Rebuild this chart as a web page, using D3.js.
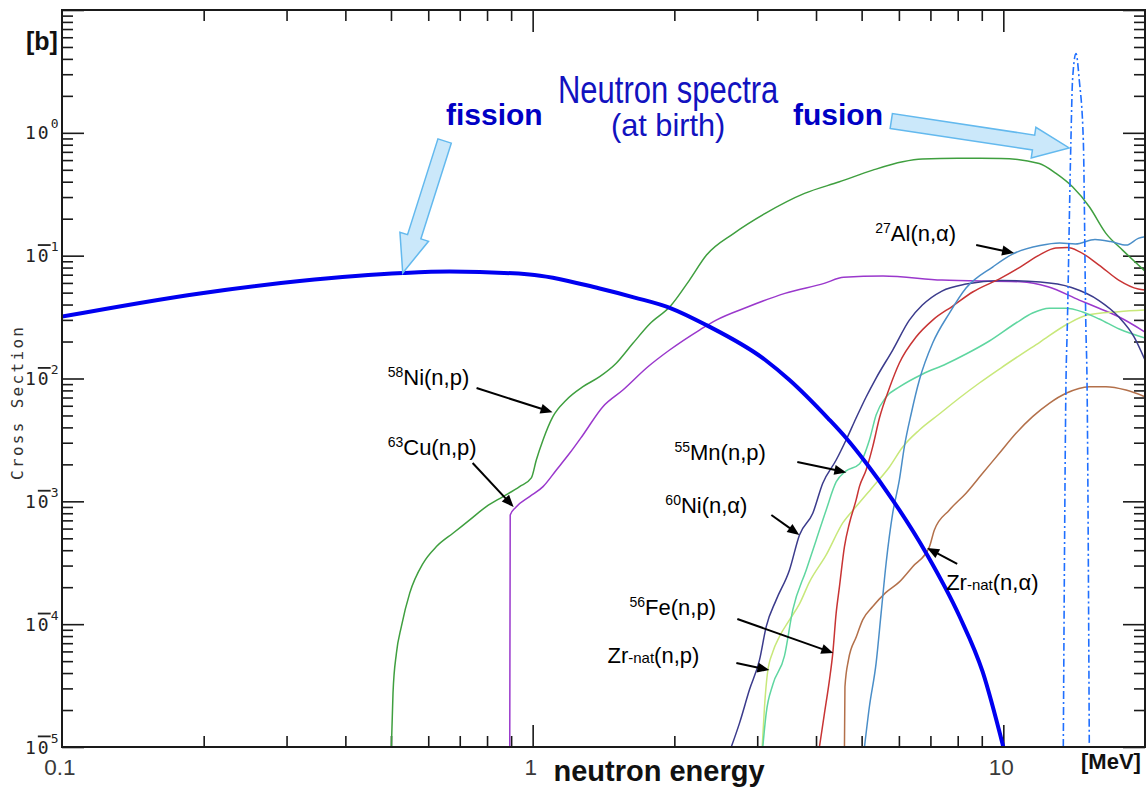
<!DOCTYPE html>
<html>
<head>
<meta charset="utf-8">
<script src="https://cdn.jsdelivr.net/npm/d3@7"></script>
<style>
  html, body { margin: 0; padding: 0; background: #fff; }
  svg { display: block; }
</style>
</head>
<body>
<svg id="chart" width="1146" height="789"></svg>
<script>
// ---- data: energy in MeV, cross section in barns ----
const fissionSpectrum = [[0.1,0.0319],[0.1963,0.0493],[0.320,0.0621],[0.530,0.0722],[0.666,0.0742],[0.985,0.0704],[1.388,0.054],[1.647,0.0456],[1.967,0.0373],[2.339,0.0272],[3.121,0.01415],[3.513,0.00972],[4.242,0.00474],[4.634,0.003278],[5.111,0.002051],[5.821,0.001025],[6.853,3.80e-4],[8.065,1.165e-4],[9.04,4.08e-5],[10.0,1.0e-5]];
const fusionSpectrum = [[13.41,1e-5],[13.59,0.00972],[13.67,0.0248],[13.92,0.872],[14.03,2.685],[14.27,4.43],[14.50,2.685],[14.79,0.872],[14.98,0.0248],[15.06,0.00972],[15.23,1e-5]];

const ni58np = [[0.501,1e-5],[0.505,2.75e-5],[0.5135,5.81e-5],[0.526,9.56e-5],[0.548,1.79e-4],[0.585,3.13e-4],[0.6245,4.28e-4],[0.677,5.50e-4],[0.735,7.06e-4],[0.797,9.06e-4],[0.865,1.092e-3],[0.938,1.317e-3],[0.9936,1.55e-3],[1.018,2.17e-3],[1.052,3.16e-3],[1.104,4.89e-3],[1.179,6.69e-3],[1.279,8.58e-3],[1.388,0.01034],[1.505,0.0133],[1.633,0.01933],[1.772,0.02776],[1.963,0.0389],[2.154,0.0633],[2.341,0.1011],[2.676,0.1519],[3.121,0.2209],[3.781,0.3213],[4.486,0.3994],[5.279,0.497],[6.112,0.581],[6.73,0.611],[8.0,0.62],[9.88,0.619],[11.92,0.5637],[12.94,0.4674],[14.03,0.3635],[15.23,0.25],[16.52,0.1519],[17.92,0.111],[20.0,0.0749]];
const cu63np = [[0.894,1e-5],[0.896,7.75e-4],[0.920,8.92e-4],[0.985,1.092e-3],[1.052,1.317e-3],[1.123,1.80e-3],[1.198,2.46e-3],[1.279,3.47e-3],[1.41,5.90e-3],[1.555,8.06e-3],[1.755,0.0124],[1.954,0.01706],[2.262,0.0248],[2.455,0.0299],[2.861,0.0382],[3.435,0.0493],[4.162,0.0595],[4.581,0.0666],[5.551,0.0682],[7.406,0.0633],[10.88,0.0613],[12.44,0.0558],[14.5,0.0435],[15.97,0.0373],[17.58,0.0318],[20.0,0.0239]];
const ni60na = [[2.642,1e-5],[2.751,1.565e-5],[2.888,2.92e-5],[3.034,5.12e-5],[3.135,9.56e-5],[3.292,1.576e-4],[3.513,2.766e-4],[3.689,5.33e-4],[3.937,8.0e-4],[4.134,1.404e-3],[4.414,2.17e-3],[4.634,3.16e-3],[4.867,4.77e-3],[5.111,7.07e-3],[5.367,0.01009],[5.821,0.01706],[6.315,0.0299],[6.73,0.0396],[7.406,0.0515],[8.333,0.0587],[9.88,0.0627],[11.97,0.061],[13.96,0.055],[15.97,0.0431],[17.58,0.0318],[18.97,0.02176],[20.0,0.01414]];
const al27na = [[5.07,1e-5],[5.194,2.136e-5],[5.367,4.82e-5],[5.50,1.229e-4],[5.636,3.135e-4],[5.821,8.0e-4],[6.014,1.493e-3],[6.163,2.787e-3],[6.377,5.24e-3],[6.632,9.72e-3],[7.078,0.01945],[7.683,0.0341],[8.333,0.0545],[9.506,0.0812],[10.46,0.103],[11.97,0.1208],[13.18,0.1266],[14.23,0.1243],[15.66,0.1352],[16.91,0.1302],[18.26,0.122],[19.35,0.1383],[20.0,0.1425]];
const fe56np = [[4.067,1e-5],[4.169,1.887e-5],[4.272,3.52e-5],[4.342,5.81e-5],[4.414,1.229e-4],[4.486,2.02e-4],[4.597,4.28e-4],[4.71,6.63e-4],[4.867,1.027e-3],[4.946,1.317e-3],[5.111,1.80e-3],[5.279,2.787e-3],[5.455,4.77e-3],[5.728,8.37e-3],[6.014,0.01337],[6.525,0.02176],[7.078,0.0299],[7.807,0.0389],[8.607,0.0506],[9.88,0.0657],[10.88,0.0812],[11.97,0.102],[12.93,0.1153],[13.69,0.1164],[14.5,0.108],[15.97,0.0839],[17.58,0.0633],[19.35,0.0535],[20.0,0.0525]];
const mn55np = [[3.083,1e-5],[3.135,1.887e-5],[3.237,3.21e-5],[3.428,5.52e-5],[3.57,1.307e-4],[3.813,2.766e-4],[4.004,4.85e-4],[4.204,8.51e-4],[4.414,1.438e-3],[4.634,1.768e-3],[4.946,2.015e-3],[5.194,3.16e-3],[5.367,5.05e-3],[5.636,7.07e-3],[6.014,8.53e-3],[6.742,0.01088],[7.556,0.01312],[8.333,0.01582],[9.34,0.0202],[10.64,0.0283],[11.54,0.0341],[12.52,0.0373],[13.59,0.0373],[14.74,0.0348],[15.99,0.0305],[17.63,0.0253],[20.0,0.02136]];
const zrnatnp = [[3.074,1e-5],[3.109,2.136e-5],[3.155,4.02e-5],[3.237,5.94e-5],[3.345,7.93e-5],[3.513,1.084e-4],[3.689,1.463e-4],[3.875,2.21e-4],[4.204,3.66e-4],[4.559,6.67e-4],[4.867,9.06e-4],[5.279,1.31e-3],[5.728,1.905e-3],[6.112,2.77e-3],[6.632,3.81e-3],[7.312,5.14e-3],[8.065,6.94e-3],[8.895,9.19e-3],[9.88,0.01217],[11.97,0.01982],[13.69,0.02776],[15.08,0.03286],[17.58,0.035],[20.0,0.0361]];
const zrnatna = [[4.597,1e-5],[4.608,3.09e-5],[4.688,5.12e-5],[4.874,7.93e-5],[5.026,1.084e-4],[5.279,1.39e-4],[5.617,1.798e-4],[6.014,2.21e-4],[6.417,2.94e-4],[6.965,4.26e-4],[7.137,5.85e-4],[7.683,8.51e-4],[8.333,1.164e-3],[9.036,1.693e-3],[9.806,2.46e-3],[10.64,3.58e-3],[11.54,4.89e-3],[12.52,6.28e-3],[13.59,7.58e-3],[15.23,8.58e-3],[16.52,8.58e-3],[18.22,8.06e-3],[20.0,7.11e-3]];

// axis ticks
const xTickLabels = ["0.1", "1", "10"];
const xMajorTicks = [0.1, 1, 10];
const yDecades = [-5, -4, -3, -2, -1, 0];

// ---- layout ----
const W = 1146, H = 789;
const plot = { left: 62, right: 1145, top: 10, bottom: 747 };
const SANS = "'Liberation Sans', Arial, Helvetica, sans-serif";
const MONO = "'DejaVu Sans Mono', monospace";

const svg = d3.select("#chart");
const x = d3.scaleLog().domain([0.1, 20]).range([plot.left, plot.right]);
const y = d3.scaleLog().domain([1e-5, 10]).range([plot.bottom, plot.top]);

svg.append("rect").attr("width", W).attr("height", H).attr("fill", "#fff");

svg.append("defs").append("clipPath").attr("id", "plotClip")
  .append("rect")
  .attr("x", plot.left).attr("y", plot.top)
  .attr("width", plot.right - plot.left).attr("height", plot.bottom - plot.top);

// ---- ticks (inward, on all four sides) ----
const xMinor = [];
for (let k = -1; k <= 1; k++) for (let n = 2; n <= 9; n++) {
  const v = n * Math.pow(10, k);
  if (v < 20) xMinor.push(v);
}
const yMinor = [];
for (let k = -5; k <= 0; k++) for (let n = 2; n <= 9; n++) yMinor.push(n * Math.pow(10, k));
const yMajor = yDecades.map(d => Math.pow(10, d)).concat([10]);

function tickAxis(axisFn, scale, values, size, tx, ty) {
  const g = svg.append("g")
    .attr("transform", `translate(${tx},${ty})`)
    .call(axisFn(scale).tickValues(values).tickSize(-size).tickFormat(""));
  g.select(".domain").remove();
  g.selectAll(".tick line").attr("stroke", "#1a1a1a").attr("stroke-width", 1.6);
  return g;
}
tickAxis(d3.axisBottom, x, xMajorTicks.slice(1), 22, 0, plot.bottom);
tickAxis(d3.axisBottom, x, xMinor, 11, 0, plot.bottom);
tickAxis(d3.axisTop, x, xMajorTicks.slice(1), 22, 0, plot.top);
tickAxis(d3.axisTop, x, xMinor, 11, 0, plot.top);
tickAxis(d3.axisLeft, y, yMajor, 22, plot.left, 0);
tickAxis(d3.axisLeft, y, yMinor, 11, plot.left, 0);
tickAxis(d3.axisRight, y, yMajor, 22, plot.right, 0);
tickAxis(d3.axisRight, y, yMinor, 11, plot.right, 0);

// ---- curves ----
const curves = svg.append("g").attr("clip-path", "url(#plotClip)");
const smooth = d3.line().x(d => x(d[0])).y(d => y(d[1])).curve(d3.curveMonotoneX);

const xsSeries = [
  { data: ni58np,  color: "#3f9f3f" },
  { data: cu63np,  color: "#9a38cc" },
  { data: zrnatna, color: "#b3704a" },
  { data: zrnatnp, color: "#c8e87a" },
  { data: mn55np,  color: "#5fd6a0" },
  { data: ni60na,  color: "#3b3b8c" },
  { data: fe56np,  color: "#c83434" },
  { data: al27na,  color: "#4a8ec8" }
];
xsSeries.forEach(s => {
  curves.append("path").datum(s.data)
    .attr("d", smooth)
    .attr("fill", "none")
    .attr("stroke", s.color)
    .attr("stroke-width", 1.5)
    .attr("stroke-linejoin", "round");
});

curves.append("path").datum(fissionSpectrum)
  .attr("d", smooth)
  .attr("fill", "none").attr("stroke", "#0000f0").attr("stroke-width", 4);

curves.append("path").datum(fusionSpectrum)
  .attr("d", smooth)
  .attr("fill", "none").attr("stroke", "#1f6fff").attr("stroke-width", 1.6)
  .attr("stroke-dasharray", "8,3,2,3");

// ---- frame ----
svg.append("rect")
  .attr("x", plot.left).attr("y", plot.top)
  .attr("width", plot.right - plot.left).attr("height", plot.bottom - plot.top)
  .attr("fill", "none").attr("stroke", "#1a1a1a").attr("stroke-width", 2);

// ---- axis labels ----
const xl = svg.append("g");
xTickLabels.forEach((t, i) => {
  xl.append("text")
    .attr("x", x(xMajorTicks[i]) - 2).attr("y", 775)
    .attr("text-anchor", "middle")
    .attr("font-family", SANS).attr("font-size", 22.5).attr("fill", "#3a3a3a")
    .text(t);
});

// decade labels: "10" with a small exponent; negative powers carry a bar over the zero
const yl = svg.append("g").attr("fill", "#222").attr("font-family", MONO);
yDecades.forEach(d => {
  const py = y(Math.pow(10, d));
  const t = yl.append("text").attr("x", 25).attr("y", py + 6.5)
    .attr("font-size", 18).attr("letter-spacing", 2);
  t.append("tspan").text("1");
  const zero = t.append("tspan").text("0");
  if (d < 0) zero.attr("text-decoration", "overline").style("text-decoration", "overline");
  t.append("tspan").attr("font-size", 13).attr("letter-spacing", 0)
    .attr("dx", 0).attr("dy", -11).text(String(Math.abs(d)));
});

svg.append("text")
  .attr("transform", `translate(23,403.5) rotate(-90)`)
  .attr("text-anchor", "middle")
  .attr("font-family", MONO).attr("font-size", 16).attr("fill", "#333")
  .attr("textLength", 153).attr("lengthAdjust", "spacing")
  .text("Cross Section");

svg.append("text").attr("x", 26).attr("y", 49.5)
  .attr("font-family", SANS).attr("font-weight", "bold").attr("font-size", 25)
  .attr("fill", "#111").text("[b]");

svg.append("text").attr("x", 659).attr("y", 781)
  .attr("text-anchor", "middle")
  .attr("font-family", SANS).attr("font-weight", "bold").attr("font-size", 29)
  .attr("fill", "#111").text("neutron energy");

svg.append("text").attr("x", 1081).attr("y", 769)
  .attr("font-family", SANS).attr("font-weight", "bold").attr("font-size", 22)
  .attr("fill", "#111").text("[MeV]");

// ---- spectrum titles ----
const BLUE_TXT = "#0000c4";
svg.append("text")
  .attr("transform", "translate(558,103) scale(0.815,1)")
  .attr("font-family", SANS).attr("font-size", 38).attr("fill", "#1212bf")
  .text("Neutron spectra");
svg.append("text")
  .attr("transform", "translate(611,136) scale(0.99,1)")
  .attr("font-family", SANS).attr("font-size", 31).attr("fill", "#1212bf")
  .text("(at birth)");
svg.append("text").attr("x", 446).attr("y", 125)
  .attr("font-family", SANS).attr("font-weight", "bold").attr("font-size", 30)
  .attr("fill", BLUE_TXT).text("fission");
svg.append("text").attr("x", 793).attr("y", 125)
  .attr("font-family", SANS).attr("font-weight", "bold").attr("font-size", 30)
  .attr("fill", BLUE_TXT).text("fusion");

// ---- block arrows towards the spectra ----
function blockArrow(tail, tip, shaftW, headW, headL) {
  const [tx, ty] = [x(tail[0]), y(tail[1])];
  const [px, py] = [x(tip[0]), y(tip[1])];
  const len = Math.hypot(px - tx, py - ty);
  const ux = (px - tx) / len, uy = (py - ty) / len;
  const nx = -uy, ny = ux;
  const bx = px - ux * headL, by = py - uy * headL;
  const pts = [
    [tx + nx * shaftW, ty + ny * shaftW],
    [bx + nx * shaftW, by + ny * shaftW],
    [bx + nx * headW, by + ny * headW],
    [px, py],
    [bx - nx * headW, by - ny * headW],
    [bx - nx * shaftW, by - ny * shaftW],
    [tx - nx * shaftW, ty - ny * shaftW]
  ];
  svg.append("polygon")
    .attr("points", pts.map(p => p.join(",")).join(" "))
    .attr("fill", "#cbe8fa").attr("stroke", "#63b9ee").attr("stroke-width", 1.5)
    .attr("stroke-linejoin", "miter");
}
blockArrow([0.650, 0.858], [0.5296, 0.0723], 7, 15, 38);
blockArrow([5.78, 1.249], [13.8, 0.753], 7.5, 15.5, 36);

// ---- reaction labels with pointer arrows ----
const reactionLabels = [
  { parts: [["58", "sup"], ["Ni(n,p)"]],              at: [0.492, 8.85e-3], from: [0.760, 8.37e-3], to: [1.102, 5.3e-3] },
  { parts: [["63", "sup"], ["Cu(n,p)"]],              at: [0.492, 2.38e-3], from: [0.7455, 2.05e-3], to: [0.911, 9.0e-4] },
  { parts: [["55", "sup"], ["Mn(n,p)"]],              at: [2.001, 2.17e-3], from: [3.65, 2.09e-3], to: [4.64, 1.72e-3] },
  { parts: [["60", "sup"], ["Ni(n,\u03b1)"]],         at: [1.914, 8.04e-4], from: [3.215, 7.74e-4], to: [3.686, 5.32e-4] },
  { parts: [["56", "sup"], ["Fe(n,p)"]],              at: [1.606, 1.188e-4], from: [2.722, 1.102e-4], to: [4.352, 5.83e-5] },
  { parts: [["Zr"], ["-nat", "small"], ["(n,p)"]],    at: [1.442, 4.83e-5], from: [2.709, 4.83e-5], to: [3.184, 4.23e-5] },
  { parts: [["Zr"], ["-nat", "small"], ["(n,\u03b1)"]], at: [7.56, 1.897e-4], from: [7.98, 3.09e-4], to: [6.89, 4.17e-4] },
  { parts: [["27", "sup"], ["Al(n,\u03b1)"]],         at: [5.345, 0.1317], from: [8.757, 0.1222], to: [10.54, 0.1052] }
];

const ann = svg.append("g");
reactionLabels.forEach(l => {
  const t = ann.append("text")
    .attr("x", x(l.at[0])).attr("y", y(l.at[1]))
    .attr("font-family", SANS).attr("font-size", 22).attr("fill", "#000");
  let cur = 0;
  l.parts.forEach(([s, kind]) => {
    const target = kind === "sup" ? -8 : 0;
    const ts = t.append("tspan").text(s).attr("dy", target - cur);
    cur = target;
    if (kind === "sup") ts.attr("font-size", 14);
    if (kind === "small") ts.attr("font-size", 15);
  });

  const [fx, fy] = [x(l.from[0]), y(l.from[1])];
  const [px, py] = [x(l.to[0]), y(l.to[1])];
  const len = Math.hypot(px - fx, py - fy);
  const ux = (px - fx) / len, uy = (py - fy) / len;
  const nx = -uy, ny = ux;
  const hl = 12, hw = 5;
  const bx = px - ux * hl, by = py - uy * hl;
  ann.append("line")
    .attr("x1", fx).attr("y1", fy).attr("x2", bx + ux * 2).attr("y2", by + uy * 2)
    .attr("stroke", "#000").attr("stroke-width", 2);
  ann.append("polygon")
    .attr("points", [[px, py], [bx + nx * hw, by + ny * hw], [bx - nx * hw, by - ny * hw]].map(p => p.join(",")).join(" "))
    .attr("fill", "#000");
});
</script>
</body>
</html>
